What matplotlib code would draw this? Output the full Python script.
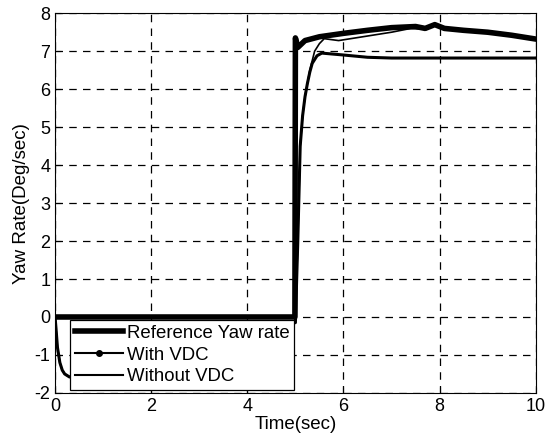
import numpy as np
import matplotlib
matplotlib.use("Agg")
import matplotlib.pyplot as plt
from matplotlib.lines import Line2D

plt.rcParams['font.family'] = ['Liberation Sans', 'DejaVu Sans']
plt.rcParams['axes.unicode_minus'] = False

# reference yaw rate (step at t = 5 s)
t_ref = [0, 4.99, 5.0, 5.05, 5.2, 5.5, 6.0, 6.5, 7.0, 7.5, 7.7, 7.9, 8.1, 8.5, 9.0, 9.5, 10]
yaw_ref = [0, 0, 7.35, 7.1, 7.28, 7.38, 7.47, 7.55, 7.62, 7.65, 7.6, 7.7, 7.6, 7.55, 7.5, 7.42, 7.32]

# with VDC
t_vdc = [0, 0.02, 0.05, 0.1, 0.15, 0.2, 0.3, 0.5, 1.0, 2.0, 3.0, 4.5, 5.0, 5.05, 5.1, 5.15,
         5.2, 5.25, 5.3, 5.4, 5.5, 5.6, 5.9, 6.5, 7.0, 7.4, 7.7, 7.9, 8.1, 8.5, 9.0, 9.5, 10]
yaw_vdc = [0, -0.3, -0.8, -1.2, -1.4, -1.5, -1.58, -1.5, -1.0, -0.5, -0.3, -0.2, -0.15, 2.0, 4.5, 5.3,
           5.8, 6.15, 6.5, 7.0, 7.2, 7.33, 7.28, 7.4, 7.5, 7.6, 7.58, 7.68, 7.58, 7.53, 7.48, 7.4, 7.3]

# without VDC
t_novdc = [0, 0.02, 0.05, 0.1, 0.15, 0.2, 0.3, 0.5, 1.0, 2.0, 3.0, 4.5, 5.0, 5.05, 5.1, 5.15,
           5.2, 5.25, 5.3, 5.35, 5.45, 5.55, 6.0, 6.5, 7.0, 10]
yaw_novdc = [0, -0.3, -0.8, -1.2, -1.4, -1.5, -1.58, -1.5, -1.0, -0.5, -0.3, -0.2, -0.15, 2.0, 4.5, 5.3,
             5.8, 6.15, 6.45, 6.68, 6.88, 6.95, 6.9, 6.84, 6.82, 6.82]

fig = plt.figure(figsize=(5.45, 4.41), dpi=100)
ax = fig.add_axes([0.101, 0.109, 0.882, 0.861])

ax.plot(t_novdc, yaw_novdc, color='black', lw=2.2)
ax.plot(t_vdc, yaw_vdc, color='black', lw=1.2)
ax.plot(t_ref, yaw_ref, color='black', lw=4)

ax.set_xlim(0, 10)
ax.set_ylim(-2, 8)
ax.set_xticks(np.arange(0, 11, 2))
ax.set_yticks(np.arange(-2, 9, 1))
ax.grid(True, color='black', linestyle=(0, (6, 5)), lw=0.9)
ax.tick_params(direction='in', labelsize=13, length=4)
for s in ax.spines.values():
    s.set_linewidth(0.8)

ax.set_xlabel('Time(sec)', fontsize=13.5, labelpad=1)
ax.set_ylabel('Yaw Rate(Deg/sec)', fontsize=13.5, labelpad=3)

handles = [Line2D([], [], color='black', lw=4),
           Line2D([], [], color='black', lw=1.5, marker='.', markersize=8),
           Line2D([], [], color='black', lw=1.5)]
labels = ['Reference Yaw rate', 'With VDC', 'Without VDC']
leg = ax.legend(handles, labels, loc='lower left', bbox_to_anchor=(0.031, 0.008),
                borderaxespad=0, fontsize=13.4, handlelength=2.6, handletextpad=0.2,
                labelspacing=0.25, borderpad=0.25, fancybox=False, framealpha=1,
                edgecolor='black')
leg.get_frame().set_linewidth(0.9)

fig.savefig('out.png', dpi=100)
